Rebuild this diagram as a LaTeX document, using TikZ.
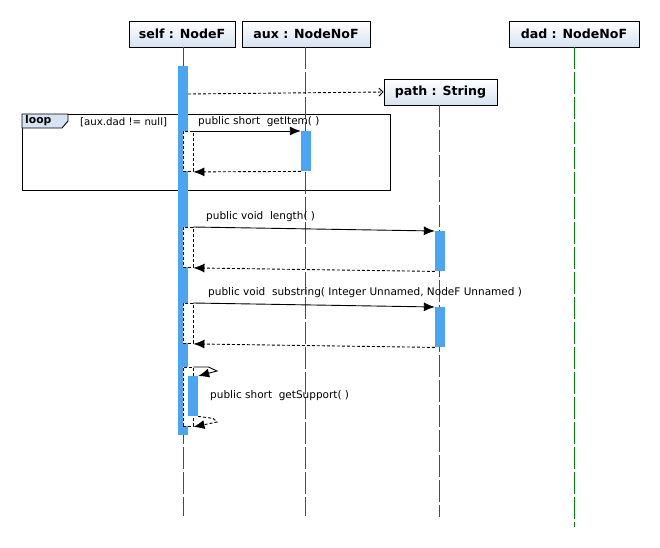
\documentclass[tikz,border=0pt]{standalone}
\usepackage{fontspec}
\setmainfont{DejaVu Sans}
\usepackage{tikz}
\usetikzlibrary{calc,positioning,arrows.meta,shapes}

\definecolor{headblue}{RGB}{214,227,242}
\definecolor{actblue}{RGB}{74,166,242}
\definecolor{lifegreen}{RGB}{0,128,0}

\tikzset{
	obj/.style={draw=black, line width=0.9pt, top color=white, bottom color=headblue, font=\fontsize{12.6}{14}\selectfont\bfseries, minimum height=26pt, inner sep=0pt},
	life/.style={lifegreen, line width=0.9pt, dash pattern=on 22pt off 3pt},
	act/.style={fill=actblue, minimum width=10pt, inner sep=0pt, anchor=north},
	ghost/.style={draw=black, line width=0.9pt, dash pattern=on 3pt off 2pt, fill=white, minimum width=10pt, inner sep=0pt, anchor=north},
	call/.style={black, line width=0.9pt, -{Latex[length=11pt,width=9pt]}},
	ret/.style={black, line width=0.9pt, dash pattern=on 3pt off 2pt, -{Latex[length=11pt,width=9pt]}},
	msg/.style={font=\fontsize{10.5}{12}\selectfont, inner sep=0pt, anchor=west},
}

\begin{document}
\begin{tikzpicture}[x=1pt, y=-1pt]
		\useasboundingbox (0,0) rectangle (660,547);
		% objects
		\node[obj, minimum width=106pt] (self) at (182,34) {self : NodeF};
		\node[obj, minimum width=128pt] (aux) at (306,34) {aux : NodeNoF};
		\node[obj, minimum width=130pt] (dad) at (574,34) {dad : NodeNoF};
		\node[obj, minimum width=113pt] (path) at (440.5,92) {path : String};
		% loop frame
		\node[draw=black, line width=0.9pt, minimum width=368pt, minimum height=76pt, inner sep=0pt, anchor=north west] (loop) at (22,114) {};
		\draw[black, line width=0.9pt, fill=headblue] (loop.north west) -- ++(46,0) -- ++(0,7) -- ++(-6,7) -- ++(-40,0) -- cycle;
		\node[font=\fontsize{10.8}{12}\selectfont\bfseries, inner sep=0pt, anchor=west] (looptag) at (25,120.5) {loop};
		\node[font=\fontsize{10.2}{11}\selectfont, inner sep=0pt, anchor=west] (guard) at (80,122) {[aux.dad != null]};
		% lifelines
		\coordinate (selfend) at (183,516);
		\coordinate (auxend) at (305,516);
		\coordinate (pathend) at (439,517);
		\coordinate (dadend) at (574,527);
		\draw[life] (183,47) -- (selfend);
		\draw[life] (305,47) -- (auxend);
		\draw[life] (439,105) -- (pathend);
		\draw[life] (574,47) -- (dadend);
		% activations
		\node[act, minimum height=369pt] (selfbar) at (183,66) {};
		\node[ghost, minimum height=40pt] (g1) at (188,131) {};
		\node[act, minimum height=40pt] (a1) at (306,131) {};
		\node[ghost, minimum height=40pt] (g2) at (188,227) {};
		\node[act, minimum height=40pt] (p2) at (440,231) {};
		\node[ghost, minimum height=40pt] (g3) at (188,303) {};
		\node[act, minimum height=40pt] (p3) at (440,307) {};
		\node[ghost, minimum height=59pt] (g4) at (188,367) {};
		\node[act, minimum height=40pt] (s4) at (193,376) {};
		% create
		\draw[black, line width=0.9pt, dash pattern=on 3pt off 2pt, -{Straight Barb[length=4pt,width=8pt]}] (188,94) -- (path.west);
		% getItem
		\node[msg] (m1) at (198,122) {public short\ \ getItem( )};
		\draw[call] (g1.north east) -- (a1.north west);
		\draw[ret] (a1.south west) -- (g1.south east);
		% length
		\node[msg] (m2) at (206,217) {public void\ \ length( )};
		\draw[call] (g2.north east) -- (p2.north west);
		\draw[ret] (p2.south west) -- (g2.south east);
		% substring
		\node[msg] (m3) at (208,293) {public void\ \ substring( Integer Unnamed, NodeF Unnamed )};
		\draw[call] (g3.north east) -- (p3.north west);
		\draw[ret] (p3.south west) -- (g3.south east);
		% getSupport
		\node[msg] (m4) at (210,396) {public short\ \ getSupport( )};
		\draw[call] (g4.north east) -- ++(15,0) -- (217,371) -- (s4.north east);
		\draw[ret] (s4.south east) -- ++(15,2) -- (217,422) -- (g4.south east);
	\end{tikzpicture}
\end{document}
